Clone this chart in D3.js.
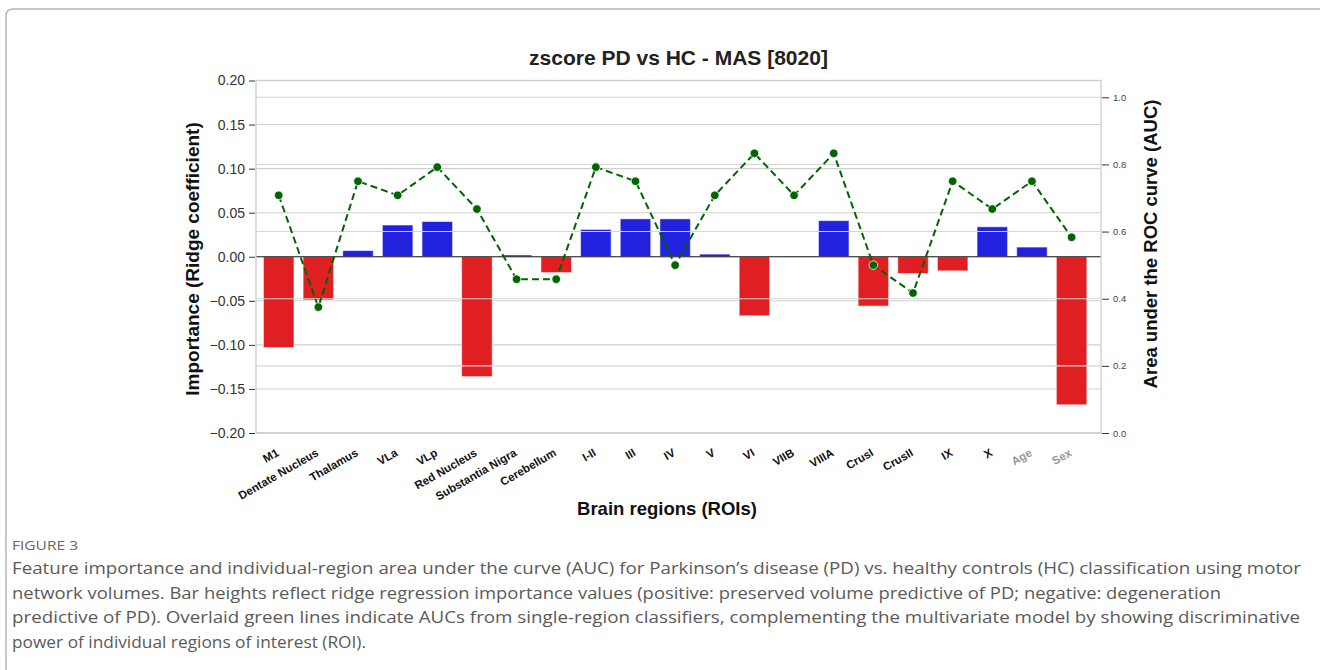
<!DOCTYPE html>
<html><head><meta charset="utf-8">
<script src="https://cdn.jsdelivr.net/npm/d3@7"></script>
<style>
html,body{margin:0;padding:0;background:#fff;}
svg{display:block;}
</style>
</head><body>
<svg id="chart" width="1320" height="670"></svg>
<script>
// ---- data ----
const categories = ["M1","Dentate Nucleus","Thalamus","VLa","VLp","Red Nucleus","Substantia Nigra","Cerebellum","I-II","III","IV","V","VI","VIIB","VIIIA","CrusI","CrusII","IX","X","Age","Sex"];
const importance = [-0.103,-0.049,0.007,0.036,0.040,-0.136,0.002,-0.018,0.031,0.043,0.043,0.003,-0.067,0.000,0.041,-0.056,-0.019,-0.016,0.034,0.011,-0.168];
const aucValues = [0.708,0.375,0.750,0.708,0.792,0.667,0.458,0.458,0.792,0.750,0.500,0.708,0.833,0.708,0.833,0.500,0.417,0.750,0.667,0.750,0.583];
const leftTicks = [-0.20,-0.15,-0.10,-0.05,0.00,0.05,0.10,0.15,0.20];
const rightTicks = [0.0,0.2,0.4,0.6,0.8,1.0];
const greyLabels = ["Age","Sex"];
const titleText = "zscore PD vs HC - MAS [8020]";
const captionHead = "FIGURE 3";
const captionLines = [
  "Feature importance and individual-region area under the curve (AUC) for Parkinson’s disease (PD) vs. healthy controls (HC) classification using motor",
  "network volumes. Bar heights reflect ridge regression importance values (positive: preserved volume predictive of PD; negative: degeneration",
  "predictive of PD). Overlaid green lines indicate AUCs from single-region classifiers, complementing the multivariate model by showing discriminative",
  "power of individual regions of interest (ROI)."
];
const captionWidths = [1289, 1209, 1288, 354];

// ---- layout ----
const plot = {left:256, right:1101, top:80.5, bottom:433};
const FONT = "'Liberation Sans', Arial, Helvetica, sans-serif";
const CAPFONT = "'Open Sans', 'Noto Sans', sans-serif";

const svg = d3.select("#chart");

// card border
svg.append("path")
  .attr("d", "M6,672 L6,16 Q6,9 13,9 L1322,9")
  .attr("fill","none").attr("stroke","#b5b5b5").attr("stroke-width",1.5);

const x = d3.scalePoint().domain(categories).range([278.7, 1071.6]);
const barW = x.step()*0.77;
const yL = d3.scaleLinear().domain([-0.2,0.2]).range([plot.bottom, plot.top]);
const yR = d3.scaleLinear().domain([0,1.05]).range([plot.bottom, plot.top]);

// left grid (behind bars)
svg.append("g").selectAll("line").data(leftTicks).join("line")
  .attr("x1",plot.left).attr("x2",plot.right)
  .attr("y1",d=>yL(d)).attr("y2",d=>yL(d))
  .attr("stroke","#d0d0d0").attr("stroke-width",1.1);

// bars
svg.append("g").selectAll("rect").data(categories).join("rect")
  .attr("x",d=>x(d)-barW/2)
  .attr("width",barW)
  .attr("y",(d,i)=>yL(Math.max(0,importance[i])))
  .attr("height",(d,i)=>Math.abs(yL(importance[i])-yL(0)))
  .attr("fill",(d,i)=>importance[i]>=0?"#2222de":"#e01f22")
  .attr("stroke","rgba(255,255,255,0.55)").attr("stroke-width",1);

// zero line
svg.append("line").attr("x1",plot.left).attr("x2",plot.right)
  .attr("y1",yL(0)).attr("y2",yL(0)).attr("stroke","#222").attr("stroke-width",1.2);

// right grid (on top of bars)
svg.append("g").selectAll("line").data(rightTicks).join("line")
  .attr("x1",plot.left).attr("x2",plot.right)
  .attr("y1",d=>yR(d)).attr("y2",d=>yR(d))
  .attr("stroke","#d6d6d6").attr("stroke-width",1.1);

// spines
svg.append("rect").attr("x",plot.left).attr("y",plot.top)
  .attr("width",plot.right-plot.left).attr("height",plot.bottom-plot.top)
  .attr("fill","none").attr("stroke","#cccccc").attr("stroke-width",1.3);

// AUC line
const line = d3.line().x((d,i)=>x(categories[i])).y(d=>yR(d));
svg.append("path").datum(aucValues).attr("d",line)
  .attr("fill","none").attr("stroke","#006400").attr("stroke-width",2)
  .attr("stroke-dasharray","7,4");
svg.append("g").selectAll("circle").data(aucValues).join("circle")
  .attr("cx",(d,i)=>x(categories[i])).attr("cy",d=>yR(d)).attr("r",4.3)
  .attr("fill","#006400").attr("stroke","#fff").attr("stroke-width",0.8);

// left axis
const axL = d3.axisLeft(yL).tickValues(leftTicks).tickSize(6).tickPadding(4)
  .tickFormat(d=>d3.format(".2f")(d).replace("-","\u2212"));
const gL = svg.append("g").attr("transform",`translate(${plot.left-1},0)`).call(axL);
gL.select(".domain").remove();
gL.selectAll(".tick line").attr("stroke","#333");
gL.selectAll("text").attr("font-family",FONT).attr("font-size",14).attr("fill","#333");

// right axis
const axR = d3.axisRight(yR).tickValues(rightTicks).tickSize(7).tickPadding(4)
  .tickFormat(d3.format(".1f"));
const gR = svg.append("g").attr("transform",`translate(${plot.right+1},0)`).call(axR);
gR.select(".domain").remove();
gR.selectAll(".tick line").attr("stroke","#333");
gR.selectAll("text").attr("font-family",FONT).attr("font-size",9.5).attr("fill","#444");

// x tick labels
svg.append("g").selectAll("text").data(categories).join("text")
  .attr("transform",d=>`translate(${x(d)+1},455) rotate(-30)`)
  .attr("text-anchor","end")
  .attr("font-family",FONT).attr("font-size",11.5).attr("font-weight","bold")
  .attr("fill",d=>greyLabels.includes(d)?"#999":"#111")
  .text(d=>d);

// titles
svg.append("text").attr("x",(plot.left+plot.right)/2).attr("y",65)
  .attr("text-anchor","middle").attr("font-family",FONT).attr("font-size",21)
  .attr("font-weight","bold").attr("fill","#222").text(titleText);

svg.append("text").attr("transform",`translate(199,259) rotate(-90)`)
  .attr("text-anchor","middle").attr("font-family",FONT).attr("font-size",19)
  .attr("font-weight","bold").attr("fill","#111").text("Importance (Ridge coefficient)");

svg.append("text").attr("transform",`translate(1157,244) rotate(-90)`)
  .attr("text-anchor","middle").attr("font-family",FONT).attr("font-size",18.5)
  .attr("font-weight","bold").attr("fill","#111").text("Area under the ROC curve (AUC)");

svg.append("text").attr("x",667).attr("y",515)
  .attr("text-anchor","middle").attr("font-family",FONT).attr("font-size",18.5)
  .attr("font-weight","bold").attr("fill","#111").text("Brain regions (ROIs)");

// caption
svg.append("text").attr("x",12).attr("y",550)
  .attr("font-family",CAPFONT).attr("font-size",13)
  .attr("fill","#666").attr("textLength",66).attr("lengthAdjust","spacingAndGlyphs")
  .text(captionHead);

svg.append("g").selectAll("text").data(captionLines).join("text")
  .attr("x",12).attr("y",(d,i)=>574+i*24.7)
  .attr("font-family",CAPFONT).attr("font-size",16.5)
  .attr("fill","#5a5a5a")
  .attr("textLength",(d,i)=>captionWidths[i]).attr("lengthAdjust","spacingAndGlyphs")
  .text(d=>d);
</script>
</body></html>
